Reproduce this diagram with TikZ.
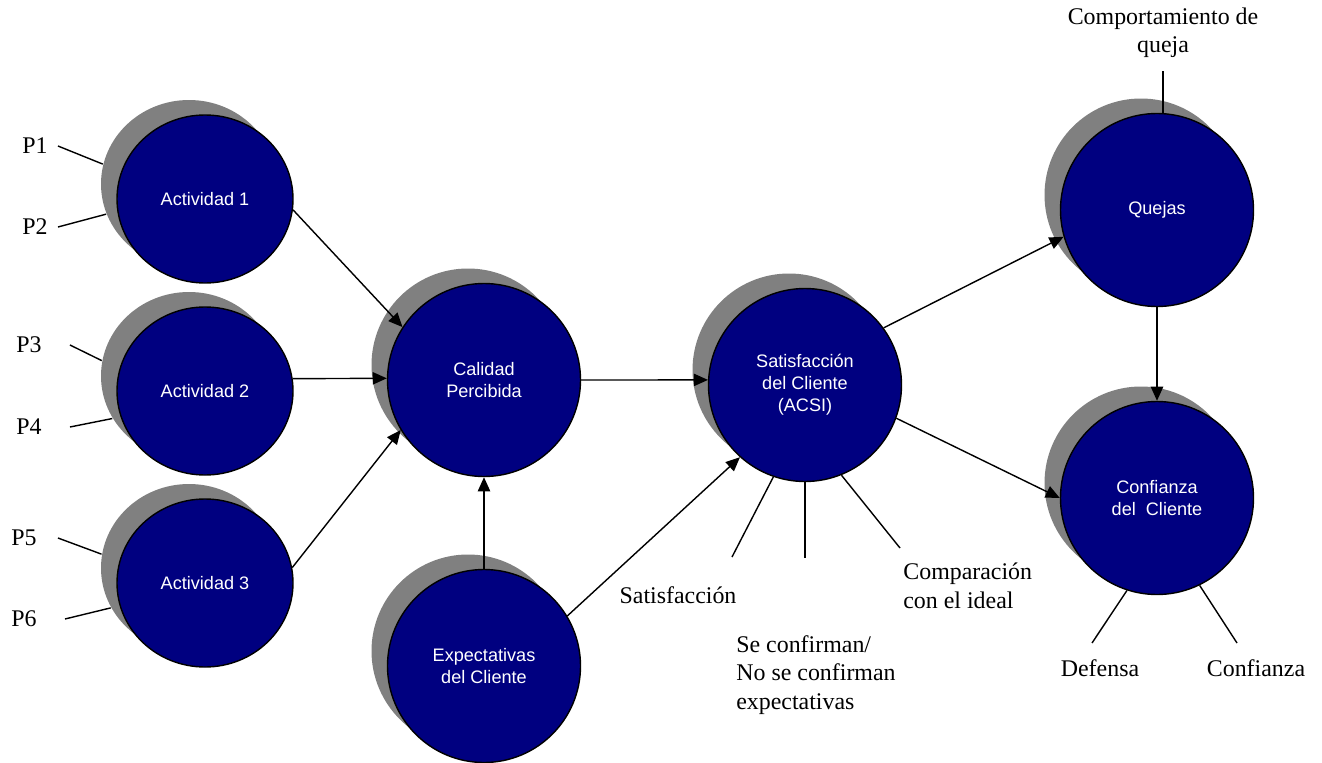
\documentclass[tikz,border=0pt]{standalone}
\usepackage{fontspec}
\setmainfont{Liberation Serif}
\setsansfont{Liberation Sans}
\usetikzlibrary{shapes,arrows.meta,positioning,shadows}
\definecolor{navyfill}{RGB}{0,0,128}
\definecolor{shadowgray}{RGB}{128,128,128}

\begin{document}
\begin{tikzpicture}[
    construct/.style={draw, ellipse, line width=0.8pt, fill=navyfill, text=white, align=center, inner sep=0pt, font=\sffamily\fontsize{10.3}{12.6}\selectfont, drop shadow={shadow xshift=-0.32cm, shadow yshift=0.30cm, fill=shadowgray, opacity=1}},
    actbox/.style={construct, minimum width=3.52cm, minimum height=3.36cm},
    bigbox/.style={construct, minimum size=3.86cm},
    link/.style={-{Triangle[length=8pt,width=7pt]}, line width=0.8pt},
    tie/.style={line width=0.8pt},
    note/.style={font=\fontsize{13.6}{16.2}\selectfont, inner sep=0pt},
]

\useasboundingbox (0,0) rectangle (26.44,-15.24);

% Activities
\node[actbox] (act1) at (4.10,-3.98) {Actividad 1};
\node[actbox] (act2) at (4.10,-7.82) {Actividad 2};
\node[actbox] (act3) at (4.10,-11.66) {Actividad 3};

% Model
\node[bigbox] (cal) at (9.68,-7.60) {Calidad\\Percibida};
\node[bigbox] (expect) at (9.68,-13.32) {Expectativas\\del Cliente};
\node[bigbox] (sat) at (16.10,-7.70) {Satisfacción\\del Cliente\\(ACSI)};
\node[bigbox] (quejas) at (23.14,-4.20) {Quejas};
\node[bigbox] (conf) at (23.14,-9.96) {Confianza\\del\ \ Cliente};

% Indicators
\node[note] (p1) at (0.70,-2.92) {P1};
\node[note] (p2) at (0.70,-4.54) {P2};
\node[note] (p3) at (0.58,-6.90) {P3};
\node[note] (p4) at (0.58,-8.54) {P4};
\node[note] (p5) at (0.48,-10.76) {P5};
\node[note] (p6) at (0.48,-12.38) {P6};

\node[note] (lsat) at (13.56,-11.90) {Satisfacción};
\node[note, anchor=west, align=left] (lexp) at (14.72,-13.50) {Se confirman/\\No se confirman\\expectativas};
\node[note, anchor=west, align=left] (lcomp) at (18.06,-11.72) {Comparación\\con el ideal};
\node[note, align=center] (lqueja) at (23.26,-0.66) {Comportamiento de\\queja};
\node[note] (ldef) at (22.00,-13.36) {Defensa};
\node[note] (lconfz) at (25.12,-13.36) {Confianza};

\coordinate (s1) at (14.64,-11.14);
\coordinate (s2) at (16.10,-11.16);
\coordinate (s3) at (18.00,-10.96);
\coordinate (d1) at (21.84,-12.86);
\coordinate (d2) at (24.74,-12.86);

\draw[tie] ([xshift=0.2cm]p1.east) -- ([shift={(-0.32,0.30)}]act1.167);
\draw[tie] ([xshift=0.2cm]p2.east) -- ([shift={(-0.32,0.30)}]act1.200);
\draw[tie] ([xshift=0.56cm]p3.east) -- ([shift={(-0.32,0.30)}]act2.170);
\draw[tie] ([xshift=0.56cm]p4.east) -- ([shift={(-0.32,0.30)}]act2.209);
\draw[tie] ([xshift=0.42cm]p5.east) -- ([shift={(-0.32,0.30)}]act3.171);
\draw[tie] ([xshift=0.56cm]p6.east) -- ([shift={(-0.32,0.30)}]act3.207);

\draw[tie] (sat.251) -- (s1);
\draw[tie] (sat.south) -- (s2);
\draw[tie] (sat.292) -- (s3);
\draw[tie] ([yshift=-0.26cm]lqueja.south) -- (lqueja.south |- quejas.north);
\draw[tie] (conf.252) -- (d1);
\draw[tie] (conf.296) -- (d2);

% Paths
\draw[link] (act1.-7) -- (cal.147);
\draw[link] (act2.8) -- (cal.179);
\draw[link] (act3.10) -- (cal.211);
\draw[link] (cal.east) -- (sat.177);
\draw[link] (expect.north) -- (cal.south);
\draw[link] (expect.31) -- (sat.228);
\draw[link] (sat.36) -- (quejas.196);
\draw[link] (sat.-20) -- (conf.180);
\draw[link] (quejas.south) -- (conf.north);

\end{tikzpicture}
\end{document}
